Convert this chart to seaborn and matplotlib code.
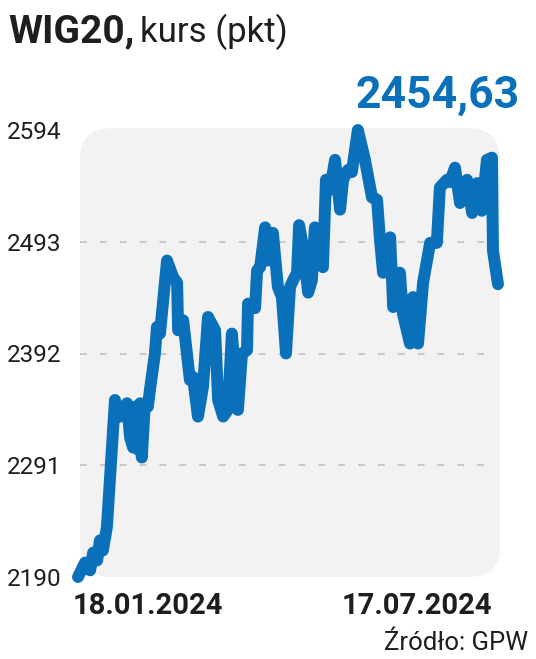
import matplotlib
matplotlib.use("Agg")
import matplotlib.pyplot as plt
from matplotlib.patches import FancyBboxPatch
import pandas as pd
import seaborn as sns

# WIG20 closing level (session number since 18.01.2024)
session = [0.0, 2.1, 3.6, 4.5, 5.7, 6.5, 7.4, 8.6, 11.0, 12.5, 14.6, 15.5, 16.4, 17.0,
           17.9, 18.5, 19.0, 19.9, 20.8, 21.4, 22.9, 23.5, 24.4, 26.5, 28.3, 29.5,
           29.8, 31.3, 33.3, 34.2, 35.7, 37.2, 38.7, 40.8, 41.7, 43.2, 44.6, 45.8,
           47.6, 48.8, 50.3, 50.6, 52.7, 53.3, 54.2, 55.7, 56.5, 58.0, 59.5, 60.7,
           61.9, 63.1, 64.0, 65.2, 65.8, 67.0, 68.5, 69.6, 70.5, 71.4, 72.9, 73.8,
           75.0, 76.5, 78.0, 78.9, 80.4, 81.5, 83.3, 85.4, 87.5, 89.0, 89.9, 90.8,
           92.9, 93.8, 95.8, 96.7, 98.8, 99.7, 101.2, 102.7, 104.8, 106.8, 107.7,
           109.8, 110.7, 112.2, 113.7, 115.8, 117.3, 118.8, 120.2, 121.7, 123.2,
           123.5, 125.0]
close = [2190, 2203, 2196, 2212, 2205, 2223, 2214, 2235, 2350, 2335, 2347, 2316, 2307, 2344,
         2305, 2347, 2298, 2347, 2344, 2359, 2392, 2416, 2410, 2476, 2461, 2456,
         2413, 2422, 2368, 2371, 2335, 2362, 2425, 2413, 2350, 2335, 2341, 2410,
         2341, 2392, 2395, 2437, 2433, 2467, 2470, 2506, 2476, 2501, 2452, 2443,
         2392, 2452, 2458, 2465, 2508, 2488, 2447, 2458, 2506, 2476, 2470, 2549,
         2540, 2567, 2522, 2549, 2558, 2556, 2594, 2567, 2533, 2531, 2494, 2465,
         2497, 2434, 2465, 2428, 2401, 2443, 2401, 2456, 2492, 2492, 2542,
         2549, 2547, 2560, 2528, 2549, 2519, 2546, 2521, 2567, 2569,
         2485, 2454.63]

y_ticks = [2190, 2291, 2392, 2493, 2594]
date_labels = ["18.01.2024", "17.07.2024"]
last_value = "2454,63"

blue = "#0b70ba"
ink = "#1e1e1e"

sns.set_theme(style="white")
plt.rcParams["font.family"] = ["Roboto", "DejaVu Sans"]

df = pd.DataFrame({"session": session, "close": close})

W, H = 536, 659
fig = plt.figure(figsize=(W / 100, H / 100), dpi=100)
ax = fig.add_axes([78 / W, 82 / H, 420 / W, 447 / H])

# rounded light-grey plot panel
panel = FancyBboxPatch((0.005, 0.0), 1.0, 1.004,
                       boxstyle="round,pad=0,rounding_size=0.075",
                       mutation_aspect=420 / 447, transform=ax.transAxes,
                       facecolor="#f2f2f2", edgecolor="none", zorder=0, clip_on=False)
ax.add_patch(panel)

ax.hlines(y_ticks[1:-1], 0.5, 123.5, colors="#bdbdbd", linewidth=1.1,
          linestyles=(0, (4.5, 8.5)), zorder=1)

sns.lineplot(data=df, x="session", y="close", ax=ax, color=blue, linewidth=8.6,
             estimator=None, solid_joinstyle="round", solid_capstyle="round",
             zorder=3, clip_on=False)

ax.set_xlim(0, 125)
ax.set_ylim(2190, 2594)
ax.set_facecolor("none")
for s in ax.spines.values():
    s.set_visible(False)
ax.set_xticks([])
ax.set_yticks(y_ticks)
ax.set_yticklabels([str(v) for v in y_ticks], fontsize=17.5, color=ink)
ax.tick_params(axis="y", length=0, pad=12)
ax.set_xlabel("")
ax.set_ylabel("")

fig.text(8 / W, 1 - 42 / H, "WIG20,", fontsize=28, fontweight="bold", color=ink,
         va="baseline", ha="left")
fig.text(140 / W, 1 - 42 / H, "kurs (pkt)", fontsize=25, color=ink,
         va="baseline", ha="left")
fig.text(520 / W, 1 - 108 / H, last_value, fontsize=32, fontweight="bold", color=blue,
         va="baseline", ha="right")

fig.text(73 / W, 1 - 614 / H, date_labels[0], fontsize=21, fontweight="bold", color=ink,
         va="baseline", ha="left")
fig.text(492 / W, 1 - 614 / H, date_labels[1], fontsize=21, fontweight="bold", color=ink,
         va="baseline", ha="right")
fig.text(528 / W, 1 - 650 / H, "Źródło: GPW", fontsize=18.5, color=ink,
         va="baseline", ha="right")

fig.savefig("out.png", dpi=100, facecolor="white")
